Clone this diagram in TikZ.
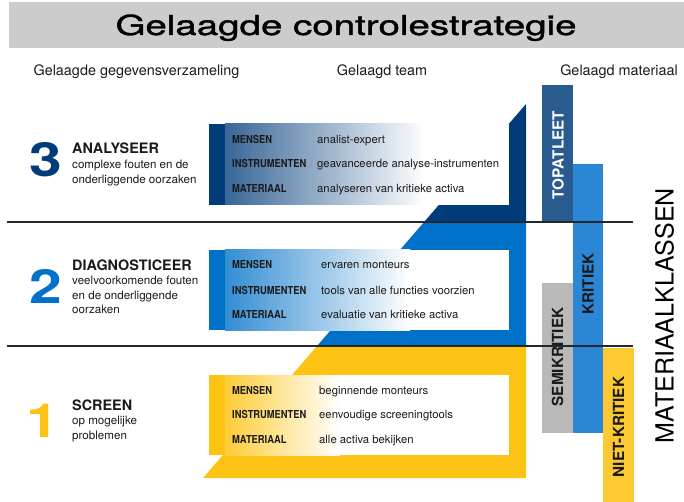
\documentclass[tikz,border=0pt]{standalone}
\usepackage{fontspec}
\setmainfont{TeX Gyre Heros}
\newfontfamily\titlefont[FakeBold=1.2]{TeX Gyre Heros}
\usepackage{graphicx}
\usetikzlibrary{positioning}

\definecolor{navy}{HTML}{003B7A}
\definecolor{midblue}{HTML}{0071C8}
\definecolor{gold}{HTML}{FDC314}
\definecolor{titlegray}{HTML}{CCCCCC}
\definecolor{topbar}{HTML}{2A5B8F}
\definecolor{kritbar}{HTML}{2B87D5}
\definecolor{semibar}{HTML}{B9B9B9}
\definecolor{nietbar}{HTML}{FDC933}
\definecolor{inktext}{HTML}{1A1A1A}

\newcommand{\condtext}[1]{\scalebox{0.85}[1]{#1}}
\newcommand{\widetext}[2]{\scalebox{#1}[1]{#2}}

\begin{document}
\begin{tikzpicture}[x=1pt, y=-1pt,
    head/.style={anchor=base, inner sep=0, text=inktext, font=\fontsize{14.4}{16}\selectfont},
    num/.style={anchor=base west, inner sep=0, font=\bfseries\fontsize{47}{50}\selectfont},
    stage/.style={anchor=base west, inner sep=0, text=inktext, font=\bfseries\fontsize{14.4}{16}\selectfont},
    desc/.style={inner sep=0, align=left, text=inktext, font=\fontsize{11.6}{14.5}\selectfont},
    lbl/.style={anchor=base west, inner sep=0, text=inktext, font=\bfseries\fontsize{11}{13}\selectfont},
    val/.style={anchor=base west, inner sep=0, text=inktext, font=\fontsize{11.3}{13}\selectfont},
    barlbl/.style={rotate=90, inner sep=0, text=inktext, font=\bfseries\fontsize{15.3}{17}\selectfont}]
    \useasboundingbox (0,0) rectangle (684,502);

    \fill[titlegray] (9,2) rectangle (684,48);
    \node[anchor=base, inner sep=0, font=\titlefont\fontsize{27.5}{30}\selectfont] (title) at (346,35) {\widetext{1.4}{Gelaagde controlestrategie}};
    \node[head] (hdata) at (136.5,75.5) {Gelaagde gegevensverzameling};
    \node[head] (hteam) at (382,75.5) {Gelaagd team};
    \node[head] (hmat) at (619,75.5) {Gelaagd materiaal};

    \begin{scope}
        \clip (203,478) -- (526,478) -- (526,104) -- cycle;
        \fill[navy] (200,100) rectangle (530,222);
        \fill[midblue] (200,222) rectangle (530,346);
        \fill[gold] (200,346) rectangle (530,480);
    \end{scope}

    \fill[white] (209,124) rectangle (509,205);
    \shade[left color=navy!78, middle color=navy!22, right color=white] (225,124) rectangle (425,205);
    \fill[navy] (209,124) rectangle (225,205);
    \fill[white] (209,250) rectangle (509,330);
    \shade[left color=midblue!80, middle color=midblue!22, right color=white] (225,250) rectangle (410,330);
    \fill[midblue] (209,250) rectangle (225,330);
    \fill[white] (209,375) rectangle (509,455);
    \shade[left color=gold!85, middle color=gold!25, right color=white] (225,375) rectangle (340,455);
    \fill[gold] (209,375) rectangle (225,455);

    \node[lbl] (m3) at (232,144) {\condtext{MENSEN}};
    \node[lbl] (i3) at (232,168) {\condtext{INSTRUMENTEN}};
    \node[lbl] (a3) at (232,193) {\condtext{MATERIAAL}};
    \node[val] (vm3) at (317,144) {analist-expert};
    \node[val] (vi3) at (317,168) {geavanceerde analyse-instrumenten};
    \node[val] (va3) at (317,193) {analyseren van kritieke activa};

    \node[lbl] (m2) at (232,269) {\condtext{MENSEN}};
    \node[lbl] (i2) at (232,294) {\condtext{INSTRUMENTEN}};
    \node[lbl] (a2) at (232,318) {\condtext{MATERIAAL}};
    \node[val] (vm2) at (321,269) {ervaren monteurs};
    \node[val] (vi2) at (321,294) {tools van alle functies voorzien};
    \node[val] (va2) at (321,318) {evaluatie van kritieke activa};

    \node[lbl] (m1) at (232,394) {\condtext{MENSEN}};
    \node[lbl] (i1) at (232,418) {\condtext{INSTRUMENTEN}};
    \node[lbl] (a1) at (232,443) {\condtext{MATERIAAL}};
    \node[val] (vm1) at (319,394) {beginnende monteurs};
    \node[val] (vi1) at (319,418) {eenvoudige screeningtools};
    \node[val] (va1) at (319,443) {alle activa bekijken};

    \node[num, text=navy] (n3) at (29,176.5) {\widetext{1.25}{3}};
    \node[stage] (analyse) at (72,154) {ANALYSEER};
    \node[desc, below right=5.5pt and 0pt of analyse.south west] (danalyse) {complexe fouten en de\\onderliggende oorzaken};

    \node[num, text=midblue] (n2) at (29,303) {\widetext{1.25}{2}};
    \node[stage] (diagnose) at (72,270) {DIAGNOSTICEER};
    \node[desc, below right=5.5pt and 0pt of diagnose.south west] (ddiagnose) {veelvoorkomende fouten\\en de onderliggende\\oorzaken};

    \node[num, text=gold] (n1) at (26.5,437) {\widetext{1.25}{1}};
    \node[stage] (screen) at (72,410) {SCREEN};
    \node[desc, font=\fontsize{11.6}{15}\selectfont, below right=5pt and 0pt of screen.south west] (dscreen) {op mogelijke\\problemen};

    \fill[topbar] (542,85) rectangle (573,222);
    \fill[kritbar] (573,164) rectangle (603,433);
    \fill[semibar] (542,283) rectangle (573,433);
    \fill[nietbar] (603,348) rectangle (634,502);
    \node[barlbl, text=white] (topatleet) at (558,155) {TOPATLEET};
    \node[barlbl] (kritiek) at (588,284) {KRITIEK};
    \node[barlbl] (semikritiek) at (557.5,357) {SEMIKRITIEK};
    \node[barlbl] (nietkritiek) at (618.5,427) {NIET-KRITIEK};
    \node[rotate=90, inner sep=0, font=\fontsize{25}{28}\selectfont] (klassen) at (664.5,315.5) {MATERIAALKLASSEN};

    \draw[black!85, line width=1.1pt] (7,222) -- (633,222);
    \draw[black!85, line width=1.1pt] (7,346) -- (633,346);
\end{tikzpicture}
\end{document}
